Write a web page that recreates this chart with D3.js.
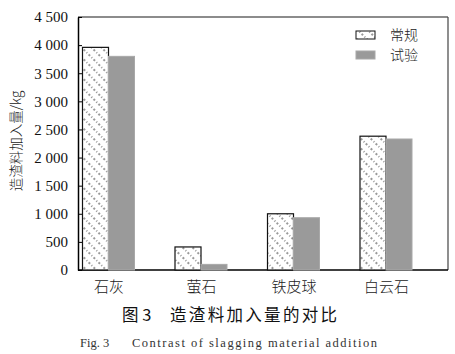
<!DOCTYPE html>
<html>
<head>
<meta charset="utf-8">
<script src="https://cdn.jsdelivr.net/npm/d3@7"></script>
<style>
  body { margin: 0; background: #fff; }
  svg { display: block; }
</style>
</head>
<body>
<div id="chart_area"></div>
<script>
var categories = ["石灰", "萤石", "铁皮球", "白云石"];
var series = ["常规", "试验"];
var conventional = [3960, 410, 1000, 2380];
var trial = [3800, 100, 930, 2330];
var yTicks = [0, 500, 1000, 1500, 2000, 2500, 3000, 3500, 4000, 4500];

var margin = { top: 17, right: 7, bottom: 84, left: 78 },
    width = 455 - margin.left - margin.right,
    height = 354 - margin.top - margin.bottom;

var svg = d3.select("#chart_area")
    .append("svg")
    .attr("width", 455)
    .attr("height", 354);

// hatch pattern for the conventional bars
var defs = svg.append("defs");
var pat = defs.append("pattern")
    .attr("id", "hatch")
    .attr("patternUnits", "userSpaceOnUse")
    .attr("width", 7)
    .attr("height", 7)
    .attr("patternTransform", "rotate(-45)");
pat.append("rect").attr("width", 7).attr("height", 7).attr("fill", "#fff");
pat.append("line")
    .attr("x1", 2).attr("y1", 0).attr("x2", 2).attr("y2", 7)
    .attr("stroke", "#333")
    .attr("stroke-width", 1)
    .attr("stroke-dasharray", "1,2");

var g = svg.append("g")
    .attr("transform", "translate(" + margin.left + "," + margin.top + ")");

var x = d3.scalePoint()
    .domain(categories)
    .range([30.5, 308]);

var barW = 26;

var y = d3.scaleLinear()
    .domain([0, 4500])
    .range([height, 0]);

// frame top / right
g.append("line").attr("x1", 0).attr("x2", width).attr("y1", 0).attr("y2", 0)
    .attr("stroke", "#666").attr("stroke-width", 1.5);
g.append("line").attr("x1", width).attr("x2", width).attr("y1", 0).attr("y2", height)
    .attr("stroke", "#444").attr("stroke-width", 1.2);

// Y axis
var yAxis = g.append("g")
    .call(d3.axisLeft(y).tickValues(yTicks).tickSizeInner(-4).tickSizeOuter(0).tickPadding(10)
        .tickFormat(function (d) { return d3.format(",")(d).replace(",", " "); }));
yAxis.select(".domain").attr("stroke", "#000").attr("stroke-width", 1.5);
yAxis.selectAll(".tick line").attr("stroke", "#000");
yAxis.selectAll("text")
    .attr("font-family", "'Liberation Serif', 'DejaVu Serif', serif")
    .attr("font-size", 15)
    .attr("fill", "#111");

// X axis
var xAxis = g.append("g")
    .attr("transform", "translate(0," + height + ")")
    .call(d3.axisBottom(x).tickSize(0).tickPadding(11));
xAxis.select(".domain").attr("d", "M0,0H" + width).attr("stroke", "#000").attr("stroke-width", 1.5);
xAxis.selectAll("text")
    .attr("font-family", "'Noto Sans CJK SC', sans-serif")
    .attr("font-weight", 300)
    .attr("font-size", 15)
    .attr("fill", "#222");

// Bars
g.selectAll(".bar-conv")
    .data(categories)
    .enter()
    .append("rect")
    .attr("class", "bar-conv")
    .attr("x", function (d) { return x(d) - barW; })
    .attr("y", function (d, i) { return y(conventional[i]); })
    .attr("width", barW)
    .attr("height", function (d, i) { return height - y(conventional[i]); })
    .attr("fill", "url(#hatch)")
    .attr("stroke", "#111")
    .attr("stroke-width", 1.2);

g.selectAll(".bar-trial")
    .data(categories)
    .enter()
    .append("rect")
    .attr("class", "bar-trial")
    .attr("x", function (d) { return x(d); })
    .attr("y", function (d, i) { return y(trial[i]); })
    .attr("width", barW)
    .attr("height", function (d, i) { return height - y(trial[i]); })
    .attr("fill", "#9a9a9a")
    .attr("stroke", "#a8a8a8")
    .attr("stroke-width", 1);

// Legend
var legend = g.append("g").attr("transform", "translate(278,14)");
series.forEach(function (s, i) {
    var row = legend.append("g").attr("transform", "translate(0," + (i * 20) + ")");
    row.append("rect")
        .attr("width", 19).attr("height", 8)
        .attr("fill", i === 0 ? "url(#hatch)" : "#9a9a9a")
        .attr("stroke", i === 0 ? "#111" : "#a8a8a8");
    row.append("text")
        .attr("x", 34).attr("y", 4).attr("dy", "0.35em")
        .attr("font-family", "'Noto Sans CJK SC', sans-serif")
        .attr("font-weight", 300)
        .attr("font-size", 14)
        .attr("fill", "#222")
        .text(s);
});

// Y label
svg.append("text")
    .attr("transform", "translate(16,141) rotate(-90)")
    .attr("text-anchor", "middle")
    .attr("dy", "0.35em")
    .attr("font-family", "'Noto Sans CJK SC', sans-serif")
    .attr("font-weight", 300)
    .attr("font-size", 13.5)
    .attr("fill", "#222")
    .text("造渣料加入量/kg");

// Captions
svg.append("text")
    .attr("x", 122).attr("y", 315).attr("dy", "0.35em")
    .attr("font-family", "'Noto Sans CJK SC', sans-serif")
    .attr("font-size", 16.5)
    .attr("fill", "#111")
    .text("图 3");
svg.append("text")
    .attr("x", 170).attr("y", 315).attr("dy", "0.35em")
    .attr("font-family", "'Noto Sans CJK SC', sans-serif")
    .attr("font-size", 16.5)
    .attr("fill", "#111")
    .attr("textLength", 167)
    .text("造渣料加入量的对比");

svg.append("text")
    .attr("x", 80).attr("y", 343).attr("dy", "0.35em")
    .attr("font-family", "'Liberation Serif', serif")
    .attr("font-size", 12.5)
    .attr("fill", "#333")
    .text("Fig. 3");
svg.append("text")
    .attr("x", 132).attr("y", 343).attr("dy", "0.35em")
    .attr("font-family", "'Liberation Serif', serif")
    .attr("font-size", 12.5)
    .attr("fill", "#333")
    .attr("textLength", 245)
    .text("Contrast of slagging material addition");
</script>
</body>
</html>
